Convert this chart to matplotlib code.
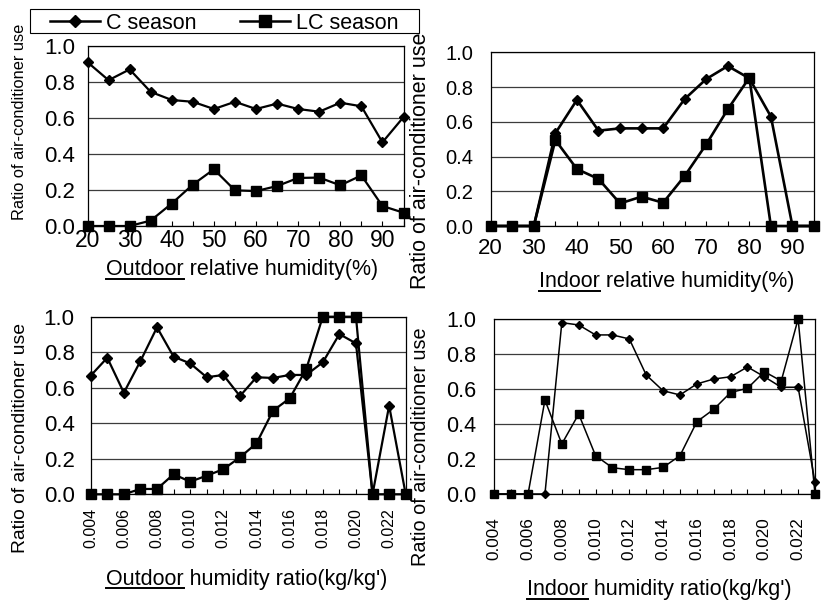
import matplotlib
matplotlib.use('Agg')
import matplotlib.pyplot as plt
from matplotlib.lines import Line2D
from matplotlib.patches import Rectangle

plt.rcParams['font.family'] = ['Liberation Sans', 'DejaVu Sans']

W, H = 823, 603

# x categories
rh_pct = [20, 25, 30, 35, 40, 45, 50, 55, 60, 65, 70, 75, 80, 85, 90, 95]
rh_ticklabels = ['20', '', '30', '', '40', '', '50', '', '60', '', '70', '', '80', '', '90', '']
hum_ratio = [0.004, 0.005, 0.006, 0.007, 0.008, 0.009, 0.010, 0.011, 0.012, 0.013,
             0.014, 0.015, 0.016, 0.017, 0.018, 0.019, 0.020, 0.021, 0.022, 0.023]
hr_ticklabels = ['0.004', '', '0.006', '', '0.008', '', '0.010', '', '0.012', '',
                 '0.014', '', '0.016', '', '0.018', '', '0.020', '', '0.022', '']

# outdoor relative humidity
out_rh_c = [0.91, 0.81, 0.87, 0.745, 0.70, 0.69, 0.65, 0.69, 0.65, 0.68, 0.65, 0.635, 0.685, 0.665, 0.465, 0.605]
out_rh_lc = [0.0, 0.0, 0.0, 0.03, 0.125, 0.23, 0.315, 0.198, 0.194, 0.222, 0.267, 0.269, 0.226, 0.281, 0.111, 0.074]

# indoor relative humidity
in_rh_c = [0.0, 0.0, 0.0, 0.534, 0.726, 0.549, 0.562, 0.562, 0.562, 0.731, 0.846, 0.921, 0.85, 0.63, 0.0, 0.0]
in_rh_lc = [0.0, 0.0, 0.0, 0.495, 0.328, 0.271, 0.13, 0.169, 0.134, 0.288, 0.47, 0.672, 0.854, 0.0, 0.0, 0.0]

# outdoor humidity ratio
out_hr_c = [0.668, 0.769, 0.572, 0.75, 0.94, 0.775, 0.737, 0.659, 0.672, 0.553,
            0.659, 0.655, 0.672, 0.672, 0.743, 0.902, 0.85, 0.0, 0.499, 0.0]
out_hr_lc = [0.0, 0.0, 0.0, 0.03, 0.03, 0.113, 0.071, 0.105, 0.141, 0.208,
             0.287, 0.471, 0.54, 0.705, 1.0, 1.0, 1.0, 0.0, 0.0, 0.0]

# indoor humidity ratio
in_hr_c = [0.0, 0.0, 0.0, 0.0, 0.979, 0.966, 0.909, 0.909, 0.886, 0.68,
           0.59, 0.566, 0.629, 0.657, 0.67, 0.726, 0.67, 0.61, 0.61, 0.067]
in_hr_lc = [0.0, 0.0, 0.0, 0.537, 0.286, 0.457, 0.219, 0.15, 0.139, 0.139,
            0.152, 0.219, 0.413, 0.484, 0.58, 0.604, 0.699, 0.646, 1.0, 0.0]

y_ticks = [0.0, 0.2, 0.4, 0.6, 0.8, 1.0]
legend_labels = ['C season', 'LC season']
ylabel_text = 'Ratio of air-conditioner use'

panels = [
    dict(x=rh_pct, c=out_rh_c, lc=out_rh_lc, ticks=rh_ticklabels, word='Outdoor',
         label='Outdoor relative humidity(%)', box=(87.5, 46, 403.5, 226),
         lw=1.6, msd=5.2, mss=7.0, ysize=16, xsize=16.5, rot=0, ypad=9, xpad=2,
         xl=(242, 270), yl=(20, 121.5), ylsize=11.8, c_top=False),
    dict(x=rh_pct, c=in_rh_c, lc=in_rh_lc, ticks=rh_ticklabels, word='Indoor',
         label='Indoor relative humidity(%)', box=(490.7, 52.3, 814, 226),
         lw=1.9, msd=4.8, mss=7.2, ysize=14.5, xsize=16, rot=0, ypad=12.7, xpad=8.5,
         xl=(667, 282), yl=(421, 161), ylsize=15.5, c_top=False),
    dict(x=hum_ratio, c=out_hr_c, lc=out_hr_lc, ticks=hr_ticklabels, word='Outdoor',
         label="Outdoor humidity ratio(kg/kg')", box=(90.7, 316.7, 405.7, 494.3),
         lw=1.6, msd=4.8, mss=6.6, ysize=16, xsize=11.5, rot=90, ypad=11.5, xpad=10,
         xl=(247, 579), yl=(21, 438), ylsize=13.9, c_top=False),
    dict(x=hum_ratio, c=in_hr_c, lc=in_hr_lc, ticks=hr_ticklabels, word='Indoor',
         label="Indoor humidity ratio(kg/kg')", box=(494.3, 319, 815, 494),
         lw=1.1, msd=4.2, mss=5.6, ysize=15.5, xsize=12.3, rot=90, ypad=13, xpad=17,
         xl=(659, 590), yl=(421, 447), ylsize=14.3, c_top=True),
]


def px_box(left, top, right, bottom):
    return [left / W, 1 - bottom / H, (right - left) / W, (bottom - top) / H]


def underline_first_word(fig, txt, word):
    renderer = fig.canvas.get_renderer()
    bb = txt.get_window_extent(renderer)
    probe = fig.text(0, 0, word, fontsize=txt.get_fontsize())
    w = probe.get_window_extent(renderer).width
    probe.remove()
    y = (bb.y0 + 1.5) / fig.bbox.height
    x0 = bb.x0 / fig.bbox.width
    x1 = (bb.x0 + w) / fig.bbox.width
    fig.add_artist(Line2D([x0, x1], [y, y], transform=fig.transFigure,
                          color='black', lw=1.4))


fig = plt.figure(figsize=(W / 100, H / 100), dpi=100)

xlabels = []
for p in panels:
    ax = fig.add_axes(px_box(*p['box']))
    zc, zlc = (4, 3) if p['c_top'] else (3, 4)
    ax.plot(p['x'], p['c'], color='black', lw=p['lw'], marker='D', ms=p['msd'],
            clip_on=False, zorder=zc)
    ax.plot(p['x'], p['lc'], color='black', lw=p['lw'], marker='s', ms=p['mss'],
            clip_on=False, zorder=zlc)
    ax.set_xlim(p['x'][0], p['x'][-1])
    ax.set_ylim(0, 1.0)
    ax.set_yticks(y_ticks)
    ax.set_yticklabels([f'{v:.1f}' for v in y_ticks])
    ax.set_xticks(p['x'])
    ax.set_xticklabels(p['ticks'], rotation=p['rot'])
    ax.tick_params(axis='y', length=0, pad=p['ypad'], labelsize=p['ysize'])
    ax.tick_params(axis='x', direction='in', length=3.6, width=0.8,
                   pad=p['xpad'], labelsize=p['xsize'])
    ax.yaxis.grid(True, color='#3c3c3c', lw=0.9)
    ax.set_axisbelow(True)
    for s in ax.spines.values():
        s.set_linewidth(0.9)
        s.set_color('black')
    t = fig.text(p['xl'][0] / W, 1 - p['xl'][1] / H, p['label'], fontsize=15.5,
                 ha='center', va='center')
    xlabels.append((t, p['word']))
    fig.text(p['yl'][0] / W, 1 - p['yl'][1] / H, ylabel_text, fontsize=p['ylsize'],
             rotation=90, ha='center', va='center')

# legend across the top
handles = [
    Line2D([], [], color='black', lw=1.8, marker='D', ms=6.5),
    Line2D([], [], color='black', lw=1.8, marker='s', ms=9),
]
fig.legend(handles, legend_labels, loc='center left',
           bbox_to_anchor=(50 / W, 1 - 23.5 / H), ncol=2, frameon=False,
           fontsize=15.5, handlelength=2.33, handletextpad=0.28,
           columnspacing=2.0, borderpad=0, borderaxespad=0, numpoints=1)
fig.add_artist(Rectangle((30 / W, 1 - 33 / H), 389 / W, 24 / H,
                         transform=fig.transFigure, fill=False,
                         edgecolor='black', lw=0.8))

fig.canvas.draw()
for t, word in xlabels:
    underline_first_word(fig, t, word)

fig.savefig('out.png', dpi=100)
